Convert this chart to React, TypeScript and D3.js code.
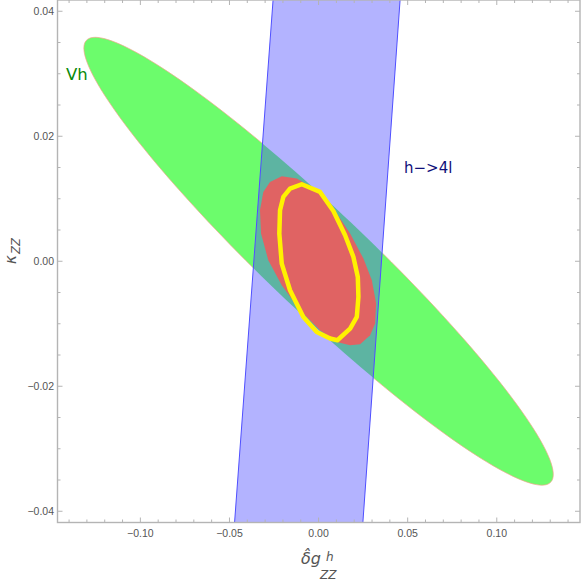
import React from 'react';
import * as d3 from 'd3';

// axis setup
const xDomain = [-0.1465, 0.1467];
const yDomain = [-0.0418, 0.0418];
const xMajor = [-0.1, -0.05, 0, 0.05, 0.1];
const yMajor = [-0.04, -0.02, 0, 0.02, 0.04];
const xMinorStep = 0.01;
const yMinorStep = 0.005;

// Vh ellipse: centre, then (a, b, c) for x = a cos t, y = b cos t + c sin t
const vhCenter = [0, 0];
const vhShape = [0.1317, -0.0341, 0.011];

// h->4l band corners
const h4lBand: [number, number][] = [
  [-0.02553, 0.0418],
  [0.04574, 0.0418],
  [0.02486, -0.0418],
  [-0.04714, -0.0418],
];

// combined region (red)
const combined: [number, number][] = [
  [-0.02067, 0.0136], [-0.01225, 0.01323], [-0.00101, 0.01136], [0.00831, 0.00843],
  [0.0177, 0.00443], [0.02517, 0.00043], [0.02989, -0.00304], [0.0323, -0.00677],
  [0.03174, -0.00997], [0.02893, -0.01184], [0.02331, -0.01328], [0.0177, -0.01344],
  [0.01022, -0.01291], [0.00084, -0.01104], [-0.01039, -0.00784], [-0.02067, -0.00384],
  [-0.0282, 0.00016], [-0.0323, 0.00443], [-0.03287, 0.00816], [-0.03101, 0.01109],
  [-0.02725, 0.01269],
];

// yellow contour
const contour: [number, number][] = [
  [-0.00944, 0.01232], [0.00084, 0.01109], [0.00831, 0.00805], [0.01489, 0.00416],
  [0.01955, 0.00069], [0.02202, -0.00251], [0.02236, -0.00571], [0.02146, -0.00891],
  [0.0177, -0.01077], [0.01056, -0.01264], [0.00646, -0.01237], [-0.00101, -0.01131],
  [-0.00854, -0.00891], [-0.01601, -0.00464], [-0.02067, -0.00037], [-0.02202, 0.00443],
  [-0.02163, 0.00816], [-0.01978, 0.01029], [-0.01601, 0.01163],
];

const W = 581, H = 583;
const left = 57.5, right = 580, top = 0, bottom = 522.5;
const axisColor = '#b4b4b4';
const labelColor = '#555';
const tickFont = 'Liberation Sans, Arial, sans-serif';

function fmt(v: number) {
  const s = Math.abs(v).toFixed(2);
  return v < -1e-9 ? '\u2212' + s : s;
}

export default function App() {
  const x = d3.scaleLinear().domain(xDomain).range([left, right]);
  const y = d3.scaleLinear().domain(yDomain).range([bottom, top]);

  const line = d3.line<[number, number]>().x(d => x(d[0])).y(d => y(d[1]));
  const closed = (pts: [number, number][]) => line(pts) + 'Z';

  const [a, b, c] = vhShape;
  const ellipsePts: [number, number][] = d3.range(0, 2 * Math.PI, Math.PI / 90)
    .map(t => [vhCenter[0] + a * Math.cos(t), vhCenter[1] + b * Math.cos(t) + c * Math.sin(t)]);
  const ellipsePath = closed(ellipsePts);
  const bandPath = closed(h4lBand);

  const xMinor = d3.range(-0.14, 0.1401, xMinorStep).filter(v => !xMajor.some(m => Math.abs(m - v) < 1e-6));
  const yMinor = d3.range(-0.04, 0.0401, yMinorStep).filter(v => !yMajor.some(m => Math.abs(m - v) < 1e-6));

  return (
    <svg width={W} height={H} style={{ position: 'absolute', left: 0, top: 0 }}>
      <defs>
        <clipPath id="plot">
          <rect x={left} y={top} width={right - left} height={bottom - top} />
        </clipPath>
        <clipPath id="band">
          <path d={bandPath} />
        </clipPath>
      </defs>
      <rect width={W} height={H} fill="#fff" />

      <g clipPath="url(#plot)">
        <path d={ellipsePath} fill="#6cfc6c" stroke="#f0a58a" strokeWidth={0.7} />
        <path d={bandPath} fill="#b3b3ff" />
        <path d={ellipsePath} fill="#5db4a2" clipPath="url(#band)" />
        <line x1={x(h4lBand[0][0])} y1={y(h4lBand[0][1])} x2={x(h4lBand[3][0])} y2={y(h4lBand[3][1])}
          stroke="#4f4fff" strokeWidth={1} />
        <line x1={x(h4lBand[1][0])} y1={y(h4lBand[1][1])} x2={x(h4lBand[2][0])} y2={y(h4lBand[2][1])}
          stroke="#4f4fff" strokeWidth={1} />
        <path d={closed(combined)} fill="#e06363" />
        <path d={closed(contour)} fill="none" stroke="#fff200" strokeWidth={4.5} strokeLinejoin="round" />
      </g>

      <text x={66} y={80} fontFamily="DejaVu Sans, sans-serif" fontSize={16.5} fill="#0a8a0a">Vh</text>
      <text x={404} y={173} fontFamily="DejaVu Sans, sans-serif" fontSize={15} fill="#10107a">{'h\u2212>4l'}</text>

      {/* frame */}
      <rect x={left} y={top} width={right - left} height={bottom - top} fill="none" stroke={axisColor} strokeWidth={1.4} />

      {/* ticks on all four sides, pointing inward */}
      <g stroke={axisColor} strokeWidth={1}>
        {xMajor.map(v => (
          <g key={'xM' + v}>
            <line x1={x(v)} x2={x(v)} y1={bottom} y2={bottom - 5} />
            <line x1={x(v)} x2={x(v)} y1={top} y2={top + 5} />
          </g>
        ))}
        {xMinor.map(v => (
          <g key={'xm' + v}>
            <line x1={x(v)} x2={x(v)} y1={bottom} y2={bottom - 3} />
            <line x1={x(v)} x2={x(v)} y1={top} y2={top + 3} />
          </g>
        ))}
        {yMajor.map(v => (
          <g key={'yM' + v}>
            <line x1={left} x2={left + 5} y1={y(v)} y2={y(v)} />
            <line x1={right} x2={right - 5} y1={y(v)} y2={y(v)} />
          </g>
        ))}
        {yMinor.map(v => (
          <g key={'ym' + v}>
            <line x1={left} x2={left + 3} y1={y(v)} y2={y(v)} />
            <line x1={right} x2={right - 3} y1={y(v)} y2={y(v)} />
          </g>
        ))}
      </g>

      <g fontFamily={tickFont} fontSize={10.5} fill={labelColor}>
        {xMajor.map(v => (
          <text key={'xl' + v} x={x(v)} y={537} textAnchor="middle">{fmt(v)}</text>
        ))}
        {yMajor.map(v => (
          <text key={'yl' + v} x={54} y={y(v) + 3.8} textAnchor="end">{fmt(v)}</text>
        ))}
      </g>

      {/* x axis label */}
      <g fontFamily="DejaVu Sans, sans-serif" fill={labelColor} fontStyle="italic">
        <text x={301} y={564} fontSize={16}>{'\u03b4\u0302g'}</text>
        <text x={326} y={561} fontSize={12}>h</text>
        <text x={320} y={579} fontSize={12}>ZZ</text>
      </g>

      {/* y axis label */}
      <g transform="translate(16,264) rotate(-90)" fontFamily="DejaVu Sans, sans-serif" fill={labelColor} fontStyle="italic">
        <text x={0} y={0} fontSize={15}>{'\u03ba'}</text>
        <text x={10} y={3.5} fontSize={11.5}>ZZ</text>
      </g>
    </svg>
  );
}
